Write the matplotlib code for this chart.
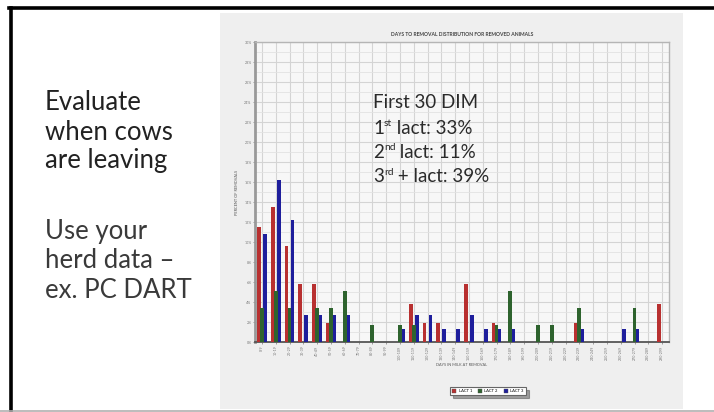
import numpy as np
import matplotlib
matplotlib.use("Agg")
import matplotlib.pyplot as plt
from matplotlib.lines import Line2D
from matplotlib.patches import Rectangle, Patch

plt.rcParams['font.family'] = ['Lato', 'DejaVu Sans']

# days-in-milk bins and percent of removals per lactation group
bins = ["0-9", "10-19", "20-29", "30-39", "40-49", "50-59", "60-69", "70-79",
        "80-89", "90-99", "100-109", "110-119", "120-129", "130-139", "140-149",
        "150-159", "160-169", "170-179", "180-189", "190-199", "200-209",
        "210-219", "220-229", "230-239", "240-249", "250-259", "260-269",
        "270-279", "280-289", "290-299"]
lact1 = [11.5, 13.5, 9.6, 5.8, 5.8, 1.9, 0, 0, 0, 0, 0, 3.8, 1.9, 1.9, 0,
         5.8, 0, 1.9, 0, 0, 0, 0, 0, 1.9, 0, 0, 0, 0, 0, 3.8]
lact2 = [3.4, 5.1, 3.4, 0, 3.4, 3.4, 5.1, 0, 1.7, 0, 1.7, 1.7, 0, 0, 0,
         0, 0, 1.7, 5.1, 0, 1.7, 1.7, 0, 3.4, 0, 0, 0, 3.4, 0, 0]
lact3 = [10.8, 16.2, 12.2, 2.7, 2.7, 2.7, 2.7, 0, 0, 0, 1.35, 2.7, 2.7, 1.35, 1.35,
         2.7, 1.35, 1.35, 1.35, 0, 0, 0, 0, 1.35, 0, 0, 1.35, 1.35, 0, 0]
series_names = ["LACT 1", "LACT 2", "LACT 3"]
yticks = list(range(0, 31, 2))

W, H = 714, 412
fig = plt.figure(figsize=(W / 100, H / 100), dpi=100)
fig.patch.set_facecolor('white')

# slide frame
fig.add_artist(Line2D([9 / W, 1], [1 - 8 / H, 1 - 8 / H], color='black', lw=2.6))
fig.add_artist(Line2D([10.5 / W, 10.5 / W], [0, 1 - 8 / H], color='black', lw=2.6))
fig.add_artist(Line2D([0, 1], [1.5 / H, 1.5 / H], color='#b0b0b0', lw=1.2))

# grey panel behind the chart picture
fig.add_artist(Rectangle((220 / W, 3 / H), 463 / W, 396 / H, transform=fig.transFigure,
                         facecolor='#efefef', edgecolor='none', zorder=0))

# left-hand slide text
left_lines = [("Evaluate", 102, '#222222'), ("when cows", 132, '#222222'),
              ("are leaving", 161, '#222222'), ("Use your", 231, '#3a3a3a'),
              ("herd data \u2013", 261, '#3a3a3a'), ("ex. PC DART", 291, '#3a3a3a')]
for txt, yy, col in left_lines:
    fig.text(45 / W, 1 - yy / H, txt, fontsize=18.5, color=col, va='center')

ax = fig.add_axes([255 / W, 1 - 342 / H, 414 / W, 300 / H])
ax.set_facecolor('#f7f7f7')
x = np.arange(len(bins))
bw = 0.27
ax.bar(x - 0.22, lact1, bw, color='#b83030', zorder=3)
ax.bar(x + 0.22, lact3, bw, color='#1e1e9c', zorder=3)
ax.bar(x, lact2, bw, color='#2e632e', zorder=4)

ax.set_xlim(-0.5, len(bins) - 0.5)
ax.set_ylim(0, 30)
ax.set_yticks(yticks)
ax.set_yticklabels([f"{t}%" for t in yticks], fontsize=2.6, color='#555555')
ax.set_yticks(np.arange(1, 30, 2), minor=True)
ax.set_xticks(x)
ax.set_xticklabels(bins, rotation=90, fontsize=2.6, color='#555555')
ax.tick_params(length=1.5, width=0.5, colors='#777777', pad=1)
ax.tick_params(which='minor', length=0)
ax.grid(True, which='major', color='#d4d4d4', lw=0.8, zorder=0)
ax.grid(True, which='minor', axis='y', color='#e2e2e2', lw=0.6, zorder=0)
ax.set_axisbelow(True)
for s in ['top', 'right']:
    ax.spines[s].set_color('#b5b5b5')
    ax.spines[s].set_linewidth(1.0)
ax.spines['left'].set_color('#999999')
ax.spines['left'].set_linewidth(2.0)
ax.spines['bottom'].set_color('#555555')
ax.spines['bottom'].set_linewidth(1.3)

ax.set_title("DAYS TO REMOVAL DISTRIBUTION FOR REMOVED ANIMALS", fontsize=3.6,
             fontweight='bold', color='#444444', pad=4)
ax.set_ylabel("PERCENT OF REMOVALS", fontsize=2.8, color='#555555', labelpad=4)
ax.set_xlabel("DAYS IN MILK AT REMOVAL", fontsize=2.8, color='#555555', labelpad=2)

# annotation inside the chart, superscripts as separate small texts
renderer = fig.canvas.get_renderer()
note_size = 13.5
note_col = '#2a2a2a'
fig.text(373 / W, 1 - 103 / H, "First 30 DIM", fontsize=note_size, color=note_col, va='center')
notes = [("1", "st", " lact: 33%", 128), ("2", "nd", " lact: 11%", 153),
         ("3", "rd", " + lact: 39%", 177)]
for num, sup, rest, yy in notes:
    t1 = fig.text(373 / W, 1 - yy / H, num, fontsize=note_size, color=note_col, va='center')
    x1 = t1.get_window_extent(renderer).x1
    t2 = fig.text(x1 / W, 1 - (yy - 5) / H, sup, fontsize=note_size * 0.55,
                  color=note_col, va='center')
    x2 = t2.get_window_extent(renderer).x1
    fig.text(x2 / W, 1 - yy / H, rest, fontsize=note_size, color=note_col, va='center')

handles = [Patch(facecolor=c, edgecolor='#555555', lw=0.3)
           for c in ['#b83030', '#2e632e', '#1e1e9c']]
leg = fig.legend(handles, series_names, loc='center', bbox_to_anchor=(488 / W, 1 - 391 / H),
                 ncol=3, fontsize=3.0, frameon=True, fancybox=False, shadow=True,
                 handlelength=1.0, handleheight=1.0, columnspacing=1.5,
                 borderpad=0.5, handletextpad=0.5)
leg.get_frame().set_edgecolor('#666666')
leg.get_frame().set_linewidth(0.8)

fig.savefig("out.png", dpi=100)
